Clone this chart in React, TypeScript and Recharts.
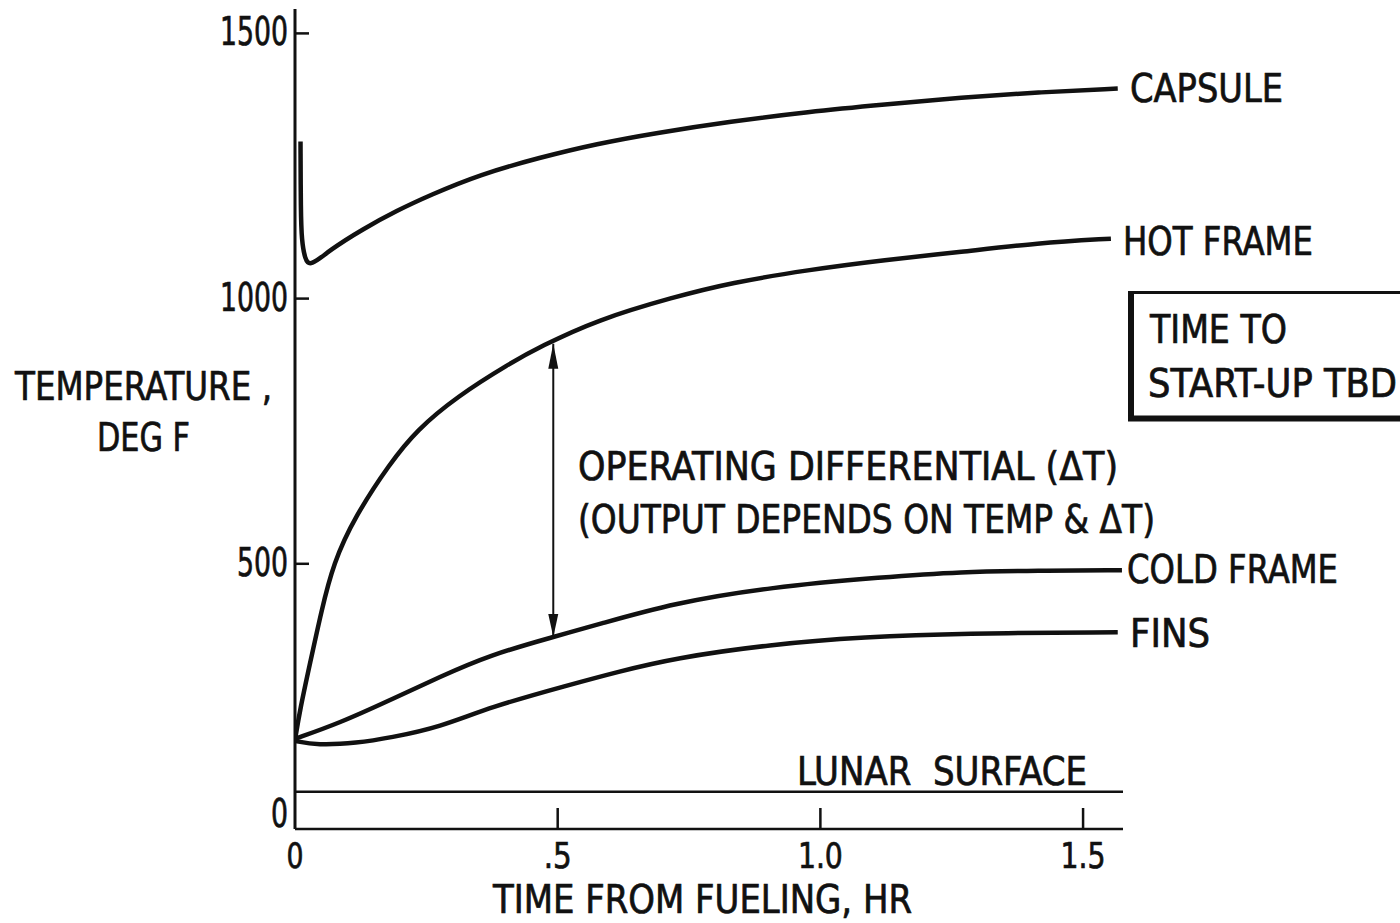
import { LineChart, Line, XAxis, YAxis, ReferenceLine, ReferenceDot } from 'recharts'

// values (time in hr, temperature in deg F)
const capsuleHours = [0.0105, 0.011, 0.0127, 0.019, 0.0285, 0.0666, 0.129, 0.194, 0.257, 0.352, 0.466, 0.575, 0.685, 0.83, 0.976, 1.123, 1.268, 1.414, 1.566]
const capsuleTemp = [1296, 1163, 1110, 1074, 1060, 1092, 1131, 1166, 1195, 1234, 1266, 1292, 1312, 1334, 1352, 1366, 1379, 1389, 1396]

const hotHours = [0, 0.0095, 0.0285, 0.05, 0.0729, 0.114, 0.181, 0.2315, 0.3077, 0.409, 0.466, 0.575, 0.721, 0.83, 0.976, 1.123, 1.268, 1.414, 1.553]
const hotTemp = [168, 225, 312, 410, 501, 589, 690, 752, 815, 878, 909, 960, 1003, 1030, 1054, 1073, 1088, 1105, 1113]

const coldHours = [0, 0.0856, 0.181, 0.276, 0.371, 0.491, 0.575, 0.721, 0.904, 1.121, 1.268, 1.412, 1.574]
const coldTemp = [170, 200, 243, 287, 328, 362, 385, 426, 456, 475, 485, 487, 488]

const finsHours = [0, 0.042, 0.118, 0.181, 0.276, 0.371, 0.523, 0.613, 0.721, 0.904, 1.085, 1.268, 1.566]
const finsTemp = [166, 158, 162, 172, 192, 230, 272, 296, 322, 348, 362, 369, 371]

const LUNAR_SURFACE_F = 70
const DELTA_T_AT = 0.4916
const deltaT = [362, 915]

const xTicks = [0, 0.5, 1.0, 1.5]
const xTickLabels = ['0', '.5', '1.0', '1.5']
const yTicks = [0, 500, 1000, 1500]
const yTickLabels = ['0', '500', '1000', '1500']

const INK = '#111'
const FONT = "'Liberation Sans Narrow', 'DejaVu Sans Condensed', 'Arial Narrow', sans-serif"

const zip = (h: number[], f: number[]) => h.map((t, i) => ({ t, f: f[i] }))
const capsule = zip(capsuleHours, capsuleTemp)
const hotFrame = zip(hotHours, hotTemp)
const coldFrame = zip(coldHours, coldTemp)
const fins = zip(finsHours, finsTemp)

const labelWidth = (s: string) => s.split('').reduce((w, c) => w + (c === '.' ? 11 : 17), 0)

function YTick({ x, y, payload }: any) {
  const label = yTickLabels[yTicks.indexOf(payload.value)]
  const zero = payload.value === 0
  return (
    <g>
      {!zero && <line x1={x} x2={x + 14} y1={y} y2={y} stroke={INK} strokeWidth={2.5} />}
      <text x={x - 7} y={zero ? y - 2 : y + 12} textAnchor="end" fontFamily={FONT} fontSize={39} fill={INK}
        stroke={INK} strokeWidth={0.7} textLength={labelWidth(label)} lengthAdjust="spacingAndGlyphs">{label}</text>
    </g>
  )
}

function XTick({ x, y, payload }: any) {
  const label = xTickLabels[xTicks.indexOf(payload.value)]
  return (
    <g>
      {payload.value !== 0 && <line x1={x} x2={x} y1={y} y2={y - 21} stroke={INK} strokeWidth={2.5} />}
      <text x={x} y={y + 39} textAnchor="middle" fontFamily={FONT} fontSize={36} fill={INK}
        stroke={INK} strokeWidth={0.7} textLength={labelWidth(label)} lengthAdjust="spacingAndGlyphs">{label}</text>
    </g>
  )
}

const arrowUp = (p: any) => (
  <polygon points={`${p.cx},${p.cy} ${p.cx - 5},${p.cy + 25} ${p.cx + 5},${p.cy + 25}`} fill={INK} />
)
const arrowDown = (p: any) => (
  <polygon points={`${p.cx},${p.cy} ${p.cx - 5},${p.cy - 23} ${p.cx + 5},${p.cy - 23}`} fill={INK} />
)

function T({ x, y, w, size = 39, children }: any) {
  return (
    <text x={x} y={y} fontFamily={FONT} fontSize={size} fill={INK} stroke={INK} strokeWidth={0.7}
      textLength={w} lengthAdjust="spacingAndGlyphs" style={{ whiteSpace: 'pre' }}>
      {children}
    </text>
  )
}

export default function App() {
  return (
    <div style={{ position: 'absolute', left: 0, top: 0, width: 1400, height: 923, background: '#fff' }}>
      <LineChart width={1400} height={923} margin={{ top: 9, right: 277, bottom: 0, left: 0 }}>
        <XAxis type="number" dataKey="t" domain={[0, 1.576]} ticks={xTicks} tick={(p: any) => <XTick {...p} />}
          tickLine={false} tickSize={0} tickMargin={0} height={94} axisLine={{ stroke: INK, strokeWidth: 2.5 }} allowDataOverflow />
        <YAxis type="number" domain={[0, 1546]} ticks={yTicks} tick={(p: any) => <YTick {...p} />}
          tickLine={false} tickSize={0} tickMargin={0} width={295} axisLine={{ stroke: INK, strokeWidth: 3 }} allowDataOverflow />
        <ReferenceLine y={LUNAR_SURFACE_F} stroke={INK} strokeWidth={2.5} />
        <Line data={capsule} dataKey="f" type="basis" stroke={INK} strokeWidth={4.5} dot={false} isAnimationActive={false} />
        <Line data={hotFrame} dataKey="f" type="basis" stroke={INK} strokeWidth={4.5} dot={false} isAnimationActive={false} />
        <Line data={coldFrame} dataKey="f" type="basis" stroke={INK} strokeWidth={4.5} dot={false} isAnimationActive={false} />
        <Line data={fins} dataKey="f" type="basis" stroke={INK} strokeWidth={4.5} dot={false} isAnimationActive={false} />
        <ReferenceLine segment={[{ x: DELTA_T_AT, y: deltaT[0] }, { x: DELTA_T_AT, y: deltaT[1] }]} stroke={INK} strokeWidth={2} />
        <ReferenceDot x={DELTA_T_AT} y={deltaT[1]} r={0} shape={arrowUp} />
        <ReferenceDot x={DELTA_T_AT} y={deltaT[0]} r={0} shape={arrowDown} />
      </LineChart>
      <svg width={1400} height={923} style={{ position: 'absolute', left: 0, top: 0, pointerEvents: 'none' }}>
        <T x={15} y={400} w={257}>TEMPERATURE ,</T>
        <T x={97} y={451} w={93}>DEG F</T>
        <T x={493} y={913} w={419}>TIME FROM FUELING, HR</T>
        <T x={1130} y={102} w={153}>CAPSULE</T>
        <T x={1123} y={255} w={190}>HOT FRAME</T>
        <T x={1127} y={583} w={211}>COLD FRAME</T>
        <T x={1130} y={647} w={80}>FINS</T>
        <T x={797} y={785} w={290}>LUNAR  SURFACE</T>
        <T x={578} y={480} w={540}>OPERATING DIFFERENTIAL (ΔT)</T>
        <T x={578} y={533} w={577}>(OUTPUT DEPENDS ON TEMP &amp; ΔT)</T>
        <line x1={1130} x2={1400} y1={292.5} y2={292.5} stroke={INK} strokeWidth={3} />
        <line x1={1131} x2={1131} y1={291} y2={418} stroke={INK} strokeWidth={6} />
        <line x1={1128} x2={1400} y1={418.5} y2={418.5} stroke={INK} strokeWidth={6} />
        <T x={1150} y={343} w={137}>TIME TO</T>
        <T x={1148} y={397} w={249}>START-UP TBD</T>
      </svg>
    </div>
  )
}
